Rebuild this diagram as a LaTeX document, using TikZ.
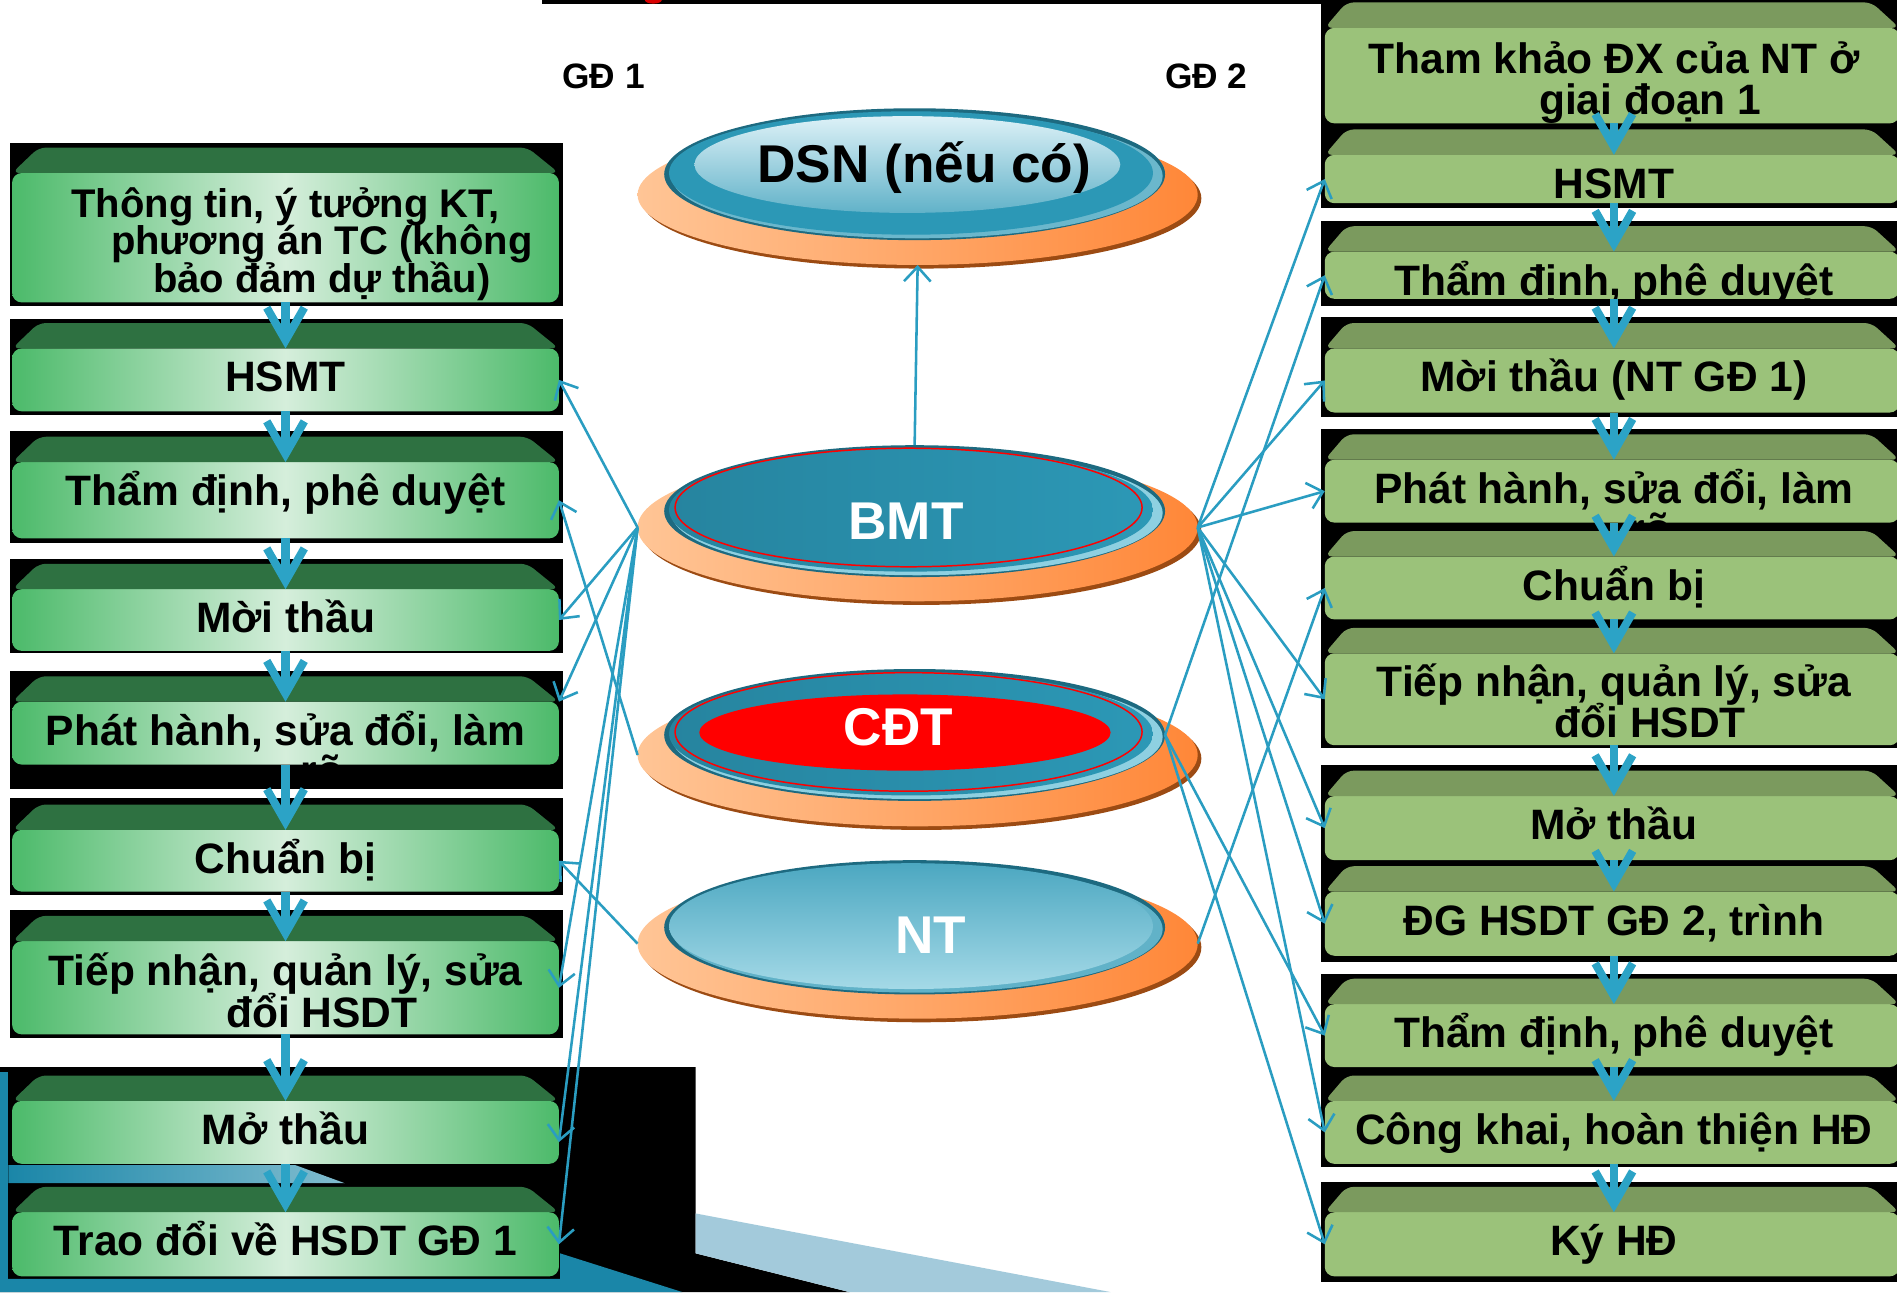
\documentclass[tikz,border=0pt]{standalone}
\usepackage{fontspec}
\setmainfont{Liberation Sans}
\usetikzlibrary{arrows.meta,shapes.geometric}

\definecolor{cgreen}{HTML}{4CBA6A}
\definecolor{cpale}{HTML}{D5EEDB}
\definecolor{cbevL}{HTML}{2E7141}
\definecolor{cfaceR}{HTML}{9BC27A}
\definecolor{cbevR}{HTML}{7B9A5E}
\definecolor{carrow}{HTML}{2CA3C6}
\definecolor{clink}{HTML}{2A9DC1}
\definecolor{coL}{HTML}{FFC596}
\definecolor{coR}{HTML}{FF8738}
\definecolor{crim}{HTML}{9C4B13}
\definecolor{cedge}{HTML}{1D6A80}
\definecolor{cmain}{HTML}{2C98B6}
\definecolor{cmainD}{HTML}{26849F}
\definecolor{cring}{HTML}{8ED0E1}
\definecolor{clight}{HTML}{DDF1F7}
\definecolor{cteal}{HTML}{1A86A8}
\definecolor{csky}{HTML}{A3CADB}

\tikzset{
  lface/.style={rectangle, rounded corners=0.8mm, minimum width=45.2mm, inner sep=0pt, outer sep=0pt,
    left color=cgreen, right color=cgreen, middle color=cpale},
  rface/.style={rectangle, rounded corners=0.8mm, minimum width=47.5mm, inner sep=0pt, outer sep=0pt,
    fill=cfaceR},
  boxtxt/.style={anchor=base, align=center, inner sep=0pt,
    font=\bfseries\fontsize{10}{9.7}\selectfont\setlength{\lineskiplimit}{-10pt}},
  flow/.style={draw=carrow, line width=1.9pt, -{Straight Barb[length=2.7mm,width=3.1mm]}},
  link/.style={draw=clink, line width=0.6pt, -{Straight Barb[length=1.2mm,width=2.2mm]}},
  obase/.style={ellipse, minimum width=46.3mm, inner sep=0pt, outer sep=0pt, left color=coL, right color=coR},
  disk/.style={ellipse, minimum width=41.4mm, minimum height=10.9mm, inner sep=0pt, outer sep=0pt, fill=cedge},
  etxt/.style={anchor=base, inner sep=0pt, font=\bfseries\fontsize{12.5}{14}\selectfont},
  gdtxt/.style={anchor=base, inner sep=0pt, font=\bfseries\fontsize{8.3}{10}\selectfont}
}

\begin{document}
\begin{tikzpicture}[x=0.1mm,y=-0.1mm]
\useasboundingbox (0,0) rectangle (1568,1068);
\clip (0,0) rectangle (1568,1068);

% background
\fill[black] (448,0) rectangle (1568,3);
\fill[red!85!black] (540,0) ellipse (7 and 3);
\foreach \a/\b in {0/172,183/253,262/345,355/618,632/795,805/965,977/1060}
  \fill[black] (1092,\a) rectangle (1568,\b);
\foreach \a/\b in {118/253,264/343,356/449,462/540,555/652,660/740,752/858}
  \fill[black] (8,\a) rectangle (465,\b);
\fill[black] (0,882) -- (575,882) -- (575,1036) -- (702,1068) -- (0,1068) -- cycle;
\fill[csky] (575,1003) -- (918,1068) -- (702,1068) -- (575,1036) -- cycle;
\fill[cteal] (0,886) rectangle (7,1068);
\shade[left color=cteal, right color=cteal!55!white] (7,963) -- (244,963) -- (285,978) -- (7,978) -- cycle;
\fill[cteal] (0,1057) -- (463,1057) -- (463,1036) -- (564,1068) -- (0,1068) -- cycle;

% GD 1 boxes
\node[lface, minimum height=10.7mm] (l1) at (236,196.5) {};
\node[lface, minimum height=5.2mm] (l2) at (236,314) {};
\node[lface, minimum height=6.3mm] (l3) at (236,413.5) {};
\node[lface, minimum height=5.1mm] (l4) at (236,512.5) {};
\node[lface, minimum height=5.2mm] (l5) at (236,606) {};
\node[lface, minimum height=5.1mm] (l6) at (236,711.5) {};
\node[lface, minimum height=7.7mm] (l7) at (236,816.5) {};
\node[lface, minimum height=5.2mm] (l8) at (236,936) {};
\node[lface, minimum height=5.3mm] (l9) at (236,1028.5) {};
\foreach \n in {l1,l2,l3,l4,l5,l6,l7,l8,l9}
  \fill[cbevL, rounded corners=0.6mm] (\n.north west) -- ([xshift=2.2mm,yshift=2.1mm]\n.north west)
    -- ([xshift=-2.6mm,yshift=2.1mm]\n.north east) -- (\n.north east) -- cycle;

\node[boxtxt, font=\bfseries\fontsize{9.4}{8.9}\selectfont\setlength{\lineskiplimit}{-10pt}] (l1t)
  at ([yshift=-9.9mm]l1.north)
  {Thông tin, ý tưởng KT,\\\hspace*{6mm}phương án TC (không\\\hspace*{6mm}bảo đảm dự thầu)};
\node[boxtxt] (l2t) at ([yshift=-3.6mm]l2.north) {HSMT};
\node[boxtxt] (l3t) at ([yshift=-3.6mm]l3.north) {Thẩm định, phê duyệt};
\node[boxtxt] (l4t) at ([yshift=-3.6mm]l4.north) {Mời thầu};
\node[boxtxt] (l5t) at ([yshift=-3.6mm]l5.north) {Phát hành, sửa đổi, làm};
\begin{scope}
  \clip (8,620) rectangle (465,637);
  \node[boxtxt] (l5r) at ([xshift=3mm,yshift=-6.9mm]l5.north) {rõ};
\end{scope}
\node[boxtxt] (l6t) at ([yshift=-3.6mm]l6.north) {Chuẩn bị};
\node[boxtxt] (l7t) at ([yshift=-7.1mm]l7.north) {Tiếp nhận, quản lý, sửa\\\hspace*{6mm}đổi HSDT};
\node[boxtxt] (l8t) at ([yshift=-3.6mm]l8.north) {Mở thầu};
\node[boxtxt] (l9t) at ([yshift=-3.6mm]l9.north) {Trao đổi về HSDT GĐ 1};

% GD 2 boxes
\node[rface, minimum height=7.9mm] (r1) at (1332.5,62.5) {};
\node[rface, minimum height=4.0mm] (r2) at (1332.5,148) {};
\node[rface, minimum height=3.9mm] (r3) at (1332.5,227.5) {};
\node[rface, minimum height=5.3mm] (r4) at (1332.5,314.5) {};
\node[rface, minimum height=5.2mm] (r5) at (1332.5,406) {};
\node[rface, minimum height=5.2mm] (r6) at (1332.5,486) {};
\node[rface, minimum height=7.6mm] (r7) at (1332.5,578) {};
\node[rface, minimum height=5.3mm] (r8) at (1332.5,684.5) {};
\node[rface, minimum height=5.3mm] (r9) at (1332.5,763.5) {};
\node[rface, minimum height=5.2mm] (r10) at (1332.5,856) {};
\node[rface, minimum height=5.2mm] (r11) at (1332.5,936) {};
\node[rface, minimum height=5.3mm] (r12) at (1332.5,1028.5) {};
\foreach \n in {r1,r2,r3,r4,r5,r6,r7,r8,r9,r10,r11,r12}
  \fill[cbevR, rounded corners=0.6mm] (\n.north west) -- ([xshift=1.8mm,yshift=2.1mm]\n.north west)
    -- ([xshift=-2.3mm,yshift=2.1mm]\n.north east) -- (\n.north east) -- cycle;

\node[boxtxt] (r1t) at ([xshift=0.15mm,yshift=-7.2mm]r1.north) {Tham khảo ĐX của NT ở\\\hspace*{6mm}giai đoạn 1};
\node[boxtxt] (r2t) at ([xshift=0.15mm,yshift=-3.6mm]r2.north) {HSMT};
\node[boxtxt] (r3t) at ([xshift=0.15mm,yshift=-3.6mm]r3.north) {Thẩm định, phê duyệt};
\node[boxtxt] (r4t) at ([xshift=0.15mm,yshift=-3.6mm]r4.north) {Mời thầu (NT GĐ 1)};
\node[boxtxt] (r5t) at ([xshift=0.15mm,yshift=-3.6mm]r5.north) {Phát hành, sửa đổi, làm};
\begin{scope}
  \clip (1092,420) rectangle (1568,437);
  \node[boxtxt] (r5r) at ([xshift=3.15mm,yshift=-6.9mm]r5.north) {rõ};
\end{scope}
\node[boxtxt] (r6t) at ([xshift=0.15mm,yshift=-3.6mm]r6.north) {Chuẩn bị};
\node[boxtxt] (r7t) at ([xshift=0.15mm,yshift=-7.0mm]r7.north) {Tiếp nhận, quản lý, sửa\\\hspace*{6mm}đổi HSDT};
\node[boxtxt] (r8t) at ([xshift=0.15mm,yshift=-3.6mm]r8.north) {Mở thầu};
\node[boxtxt] (r9t) at ([xshift=0.15mm,yshift=-3.6mm]r9.north) {ĐG HSDT GĐ 2, trình};
\node[boxtxt] (r10t) at ([xshift=0.15mm,yshift=-3.6mm]r10.north) {Thẩm định, phê duyệt};
\node[boxtxt] (r11t) at ([xshift=0.15mm,yshift=-3.6mm]r11.north) {Công khai, hoàn thiện HĐ};
\node[boxtxt] (r12t) at ([xshift=0.15mm,yshift=-3.6mm]r12.north) {Ký HĐ};

% step arrows
\foreach \a/\b in {l1/l2,l2/l3,l3/l4,l4/l5,l5/l6,l6/l7,l7/l8,l8/l9}
  \draw[flow] (\a.south) -- (\b.north);
\foreach \a/\b in {r1/r2,r2/r3,r3/r4,r4/r5,r5/r6,r6/r7,r7/r8,r8/r9,r9/r10,r10/r11,r11/r12}
  \draw[flow] ([xshift=0.15mm]\a.south) -- ([xshift=0.15mm]\b.north);

% DSN
\fill[crim] (761.5,164) ellipse (231.5 and 58);
\node[obase, minimum height=11.6mm] (dsnbase) at (758.5,161) {};
\node[disk] (dsn) at (756,144) {};
\fill[cmain!70!white] (758,145.5) ellipse (203 and 51.5);
\fill[cmain] (753,143) ellipse (200 and 51);
\shade[top color=clight, bottom color=cmain!75!white] (750,136) ellipse (176 and 40);
\node[etxt] (dsnl) at (764,151) {DSN (nếu có)};

% BMT
\fill[crim] (761.5,439) ellipse (231.5 and 61);
\node[obase, minimum height=12.2mm] (bmtbase) at (758.5,436) {};
\node[disk] (bmt) at (756,422.5) {};
\fill[cring] (758,424) ellipse (203 and 51.5);
\shade[left color=cmainD, right color=cmain] (753,421.5) ellipse (200 and 51);
\draw[red, line width=0.35pt] (751,419.5) ellipse (193 and 49);
\node[etxt, text=white] (bmtl) at (749,445.6) {BMT};

% CDT
\fill[crim] (761.5,627) ellipse (231.5 and 59);
\node[obase, minimum height=11.8mm] (cdtbase) at (758.5,624) {};
\node[disk] (cdt) at (756,607.5) {};
\fill[cring] (758,609) ellipse (203 and 51.5);
\shade[left color=cmainD, right color=cmain] (753,606.5) ellipse (200 and 51);
\draw[red, line width=0.35pt] (751,605) ellipse (193 and 49);
\fill[red] (748,605.5) ellipse (170 and 31.5);
\node[etxt, text=white] (cdtl) at (742.5,616) {CĐT};

% NT
\fill[crim] (761.5,783) ellipse (231.5 and 62);
\node[obase, minimum height=12.4mm] (ntbase) at (758.5,780) {};
\node[disk, minimum height=11.1mm] (nt) at (756,766.5) {};
\fill[cmain!75!white] (758,768) ellipse (203 and 52.5);
\shade[top color=cmain!85!white, bottom color=cring!80!white] (753,765.5) ellipse (200 and 52);
\node[etxt, text=white] (ntl) at (769.5,788.5) {NT};

\node[gdtxt] (gd1) at (499,73) {GĐ 1};
\node[gdtxt] (gd2) at (997,73) {GĐ 2};

% links
\draw[link] (bmt.north) -- (dsnbase.south);
\foreach \t in {l2,l4,l7,l9}
  \draw[link] (bmtbase.west) -- (\t.east);
\draw[link] (bmtbase.west) -- (l5.north east);
\draw[link] (bmtbase.west) -- ([yshift=-0.8mm]l8.east);
\draw[link] (cdtbase.west) -- (l3.east);
\draw[link] (ntbase.west) -- (l6.east);
\foreach \t in {r2,r4,r5,r7,r8,r9,r11}
  \draw[link] (bmtbase.east) -- (\t.west);
\foreach \t in {r3,r10,r12}
  \draw[link] (cdt.east) -- (\t.west);
\draw[link] (ntbase.east) -- (r6.west);
\end{tikzpicture}
\end{document}
